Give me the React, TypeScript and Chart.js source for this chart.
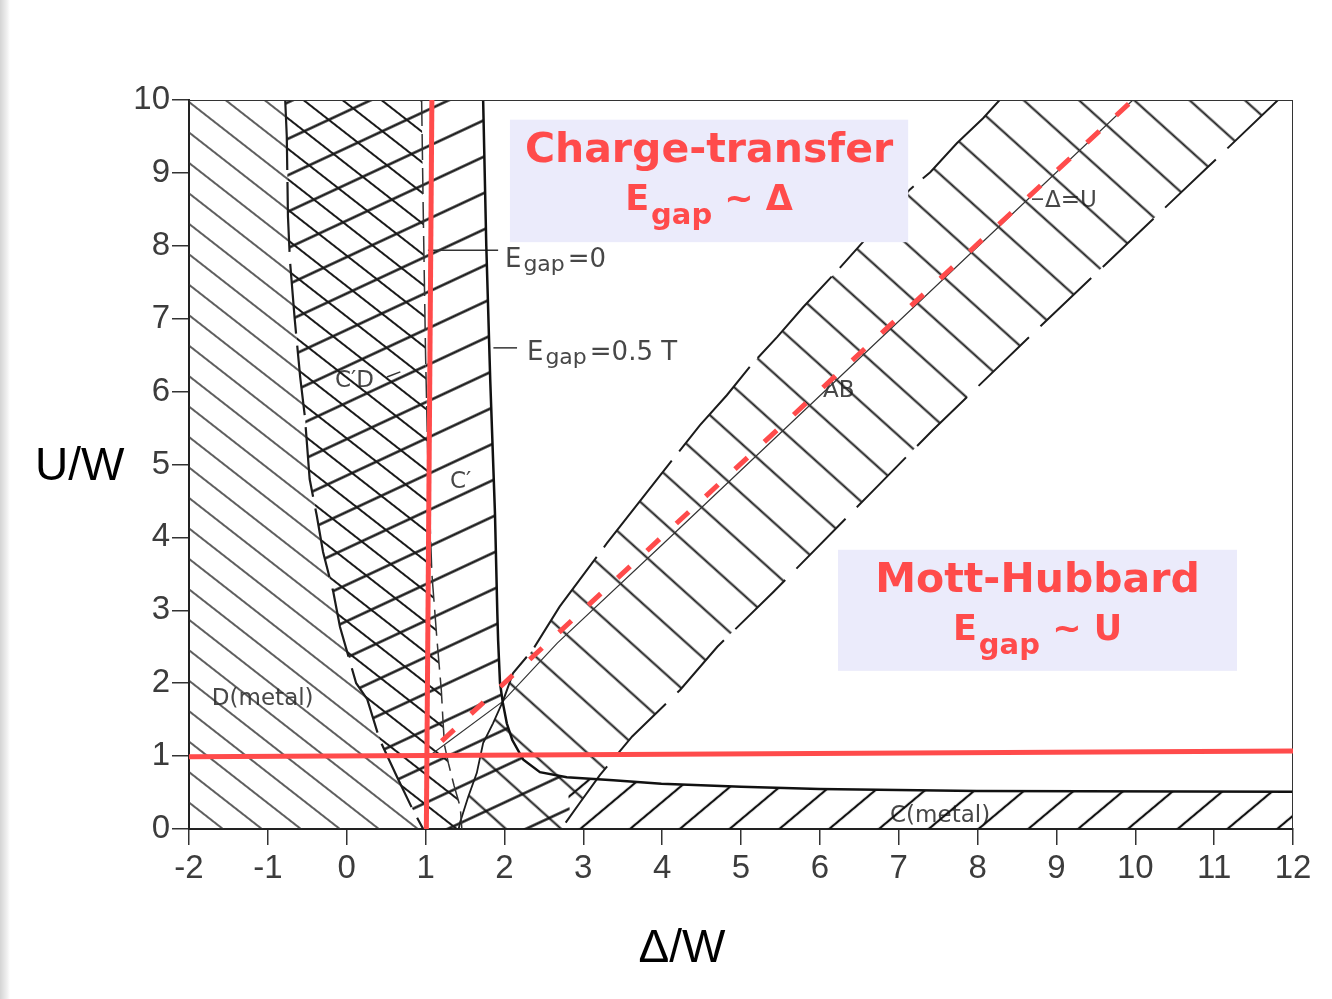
import React, { useEffect, useRef } from 'react';
import { Chart, registerables } from 'chart.js';

Chart.register(...registerables);

type Pt = [number, number];

// Axis ranges: Δ/W horizontally, U/W vertically
const deltaRange: Pt = [-2, 12];
const uRange: Pt = [0, 10];

// Phase boundaries (Δ/W, U/W), each listed from the top of the diagram down
const leftBoundary: Pt[] = [
  [-0.78, 10], [-0.76, 9.5], [-0.745, 8.4], [-0.72, 7.8], [-0.66, 7.0], [-0.59, 6.2],
  [-0.53, 5.65], [-0.47, 4.8], [-0.38, 4.3], [-0.3, 3.8], [-0.17, 3.25], [-0.085, 2.77],
  [0.04, 2.3], [0.12, 2.0], [0.26, 1.78], [0.42, 1.22], [0.64, 0.71], [0.84, 0.26], [0.97, 0],
];
const gapZeroLine: Pt[] = [
  [0.95, 10], [0.97, 8.5], [1.0, 6.5], [1.03, 5.0], [1.08, 3.5], [1.145, 2.59], [1.2, 1.9],
  [1.22, 1.5], [1.24, 1.15], [1.29, 0.9], [1.36, 0.6], [1.44, 0.3], [1.46, 0],
];
const gapHalfLine: Pt[] = [
  [1.73, 10], [1.77, 8], [1.82, 6.16], [1.88, 4.33], [1.91, 2.96], [1.92, 2.59], [1.944, 2.0],
  [1.98, 1.73], [2.03, 1.45], [2.1, 1.22], [2.24, 0.95], [2.45, 0.78], [2.79, 0.71], [3.38, 0.67],
  [3.99, 0.62], [5.0, 0.58], [5.99, 0.55], [7.99, 0.52], [12, 0.51],
];
const abUpperEdge: Pt[] = [
  [8.28, 10], [8.07, 9.75], [7.74, 9.41], [7.4, 9.01], [7.14, 8.77], [6.23, 7.67], [5.79, 7.16],
  [5.46, 6.75], [5.15, 6.39], [4.82, 5.95], [4.48, 5.54], [3.93, 4.79], [3.3, 3.92], [2.7, 3.05],
  [2.36, 2.46], [2.11, 2.14], [1.98, 1.75],
];
const abLowerEdge: Pt[] = [
  [11.81, 10], [10.91, 9.07], [10.19, 8.33], [9.51, 7.63], [8.79, 6.89], [7.43, 5.47], [6.72, 4.69],
  [5.41, 3.25], [4.7, 2.5], [4.23, 1.91], [3.62, 1.27], [3.21, 0.74], [2.95, 0.35], [2.72, 0],
];
const junctionBranch: Pt[] = [
  [1.98, 1.75], [1.855, 1.45], [1.73, 1.18], [1.65, 0.77], [1.54, 0.44], [1.44, 0.1], [1.42, 0],
];
const deltaEqualsU: Pt[] = [[1.08, 1.03], [1.98, 1.75], [2.67, 2.55], [4.0, 3.9], [9.97, 10]];

// Red guide lines
const guideVertical: Pt[] = [[1.01, 0], [1.08, 10]];
const guideHorizontal: Pt[] = [[-2, 0.99], [12, 1.07]];
const guideDiagonal: Pt[] = [[1.0, 1.0], [9.97, 10]];

// Short leader lines next to the labels
const gapZeroLeader: Pt[] = [[1.03, 7.94], [1.92, 7.94]];
const gapHalfLeader: Pt[] = [[1.86, 6.6], [2.16, 6.6]];
const deltaULeader: Pt[] = [[8.69, 8.64], [8.83, 8.64]];
const cdLeader: Pt[] = [[0.51, 6.2], [0.68, 6.27]];

// Region names (anchor = left end of the text baseline)
const regionLabels: { text: string; at: Pt }[] = [
  { text: 'C′D', at: [-0.15, 6.06] },
  { text: 'C′', at: [1.31, 4.68] },
  { text: 'AB', at: [6.04, 5.93] },
  { text: 'D(metal)', at: [-1.71, 1.7] },
  { text: 'C(metal)', at: [6.89, 0.1] },
  { text: 'Δ=U', at: [8.855, 8.53] },
];
const gapLabels: { value: string; at: Pt }[] = [
  { value: '=0', at: [2.007, 7.71] },
  { value: '=0.5 T', at: [2.286, 6.43] },
];

// Shaded captions for the two insulating regimes
const regimeBoxes: { title: string; symbol: string; from: Pt; to: Pt }[] = [
  { title: 'Charge-transfer', symbol: 'Δ', from: [2.07, 9.73], to: [7.12, 8.05] },
  { title: 'Mott-Hubbard', symbol: 'U', from: [6.23, 3.83], to: [11.29, 2.17] },
];

const RED = '#ff4b4b';
const INK = '#1c1c1c';
const PAPER_TEXT = '#474747';
const PAPER_FONT = '"DejaVu Sans", "Liberation Sans", sans-serif';
const CAPTION_FONT = '"DejaVu Sans", "Noto Sans", sans-serif';

const toXY = (a: Pt[]) => a.map(([x, y]) => ({ x, y }));

// Repeating line pattern: parallel strokes at `angle` degrees, `spacing` px apart
function hatch(
  ctx: CanvasRenderingContext2D,
  angle: number,
  spacing: number,
  width: number,
  color: string,
  shift = 0,
): CanvasPattern | string {
  const tile = document.createElement('canvas');
  tile.width = 8;
  tile.height = spacing;
  const t = tile.getContext('2d');
  if (!t) return 'transparent';
  t.strokeStyle = color;
  t.lineWidth = width;
  t.beginPath();
  t.moveTo(0, spacing / 2);
  t.lineTo(8, spacing / 2);
  t.stroke();
  const p = ctx.createPattern(tile, 'repeat');
  if (!p) return 'transparent';
  p.setTransform(new DOMMatrix().translate(0, shift).rotate(angle));
  return p;
}

function lineSet(data: Pt[], color: string, width: number, dash: number[] = [], order = 1, dashOffset = 0) {
  return {
    data: toXY(data),
    showLine: true,
    fill: false,
    borderColor: color,
    borderWidth: width,
    borderDash: dash,
    borderDashOffset: dashOffset,
    borderCapStyle: 'butt' as const,
    pointRadius: 0,
    pointHoverRadius: 0,
    order,
  };
}

function areaSet(poly: Pt[], pattern: CanvasPattern | string) {
  return {
    data: toXY([...poly, poly[0]]),
    showLine: true,
    fill: 'shape' as const,
    backgroundColor: pattern,
    borderColor: 'transparent',
    borderWidth: 0,
    pointRadius: 0,
    pointHoverRadius: 0,
    order: 10,
  };
}

const splitAt = 2.79;
const rev = (a: Pt[]) => [...a].reverse();
// D (metal): between the left axis and the dash-dotted boundary
const dRegion: Pt[] = [[-2, 0], [-2, 10], ...leftBoundary];
// C'D: between the dash-dotted boundary and the E_gap = 0 line
const cdRegion: Pt[] = [...leftBoundary, ...rev(gapZeroLine)];
// C': between E_gap = 0 and E_gap = 0.5 T
const cPrimeRegion: Pt[] = [...gapZeroLine, [2.85, 0], ...rev(gapHalfLine.filter(([x]) => x <= splitAt))];
// C (metal): the strip under the E_gap = 0.5 T tail
const cMetalRegion: Pt[] = [[2.85, 0], [12, 0], ...rev(gapHalfLine.filter(([x]) => x >= splitAt))];
// AB: the band along Δ = U
const abRegion: Pt[] = [...abUpperEdge, ...junctionBranch.slice(1), ...rev(abLowerEdge)];

function drawGapLabel(ctx: CanvasRenderingContext2D, x: number, y: number, value: string) {
  ctx.fillStyle = PAPER_TEXT;
  ctx.textBaseline = 'alphabetic';
  ctx.textAlign = 'left';
  ctx.font = `26px ${PAPER_FONT}`;
  ctx.fillText('E', x, y);
  let cx = x + ctx.measureText('E').width + 2;
  ctx.font = `22px ${PAPER_FONT}`;
  ctx.fillText('gap', cx, y + 4);
  cx += ctx.measureText('gap').width + 3;
  ctx.font = `26px ${PAPER_FONT}`;
  ctx.fillText(value, cx, y);
}

const paperLabels = {
  id: 'paperLabels',
  beforeDatasetsDraw(chart: Chart) {
    const { ctx } = chart;
    const xs = chart.scales.x;
    const ys = chart.scales.y;
    ctx.save();
    ctx.font = `23px ${PAPER_FONT}`;
    ctx.textBaseline = 'alphabetic';
    ctx.textAlign = 'left';
    for (const l of regionLabels) {
      const px = xs.getPixelForValue(l.at[0]);
      const py = ys.getPixelForValue(l.at[1]);
      const w = ctx.measureText(l.text).width;
      ctx.fillStyle = '#ffffff';
      ctx.fillRect(px - 2, py - 19, w + 4, 25);
      ctx.fillStyle = PAPER_TEXT;
      ctx.fillText(l.text, px, py);
    }
    for (const g of gapLabels) {
      drawGapLabel(ctx, xs.getPixelForValue(g.at[0]), ys.getPixelForValue(g.at[1]), g.value);
    }
    ctx.restore();
  },
  afterDatasetsDraw(chart: Chart) {
    const { ctx } = chart;
    const xs = chart.scales.x;
    const ys = chart.scales.y;
    ctx.save();
    for (const b of regimeBoxes) {
      const x0 = xs.getPixelForValue(b.from[0]);
      const y0 = ys.getPixelForValue(b.from[1]);
      const x1 = xs.getPixelForValue(b.to[0]);
      const y1 = ys.getPixelForValue(b.to[1]);
      ctx.fillStyle = 'rgb(235,235,251)';
      ctx.fillRect(x0, y0, x1 - x0, y1 - y0);
      const cx = (x0 + x1) / 2;
      ctx.fillStyle = RED;
      ctx.textBaseline = 'alphabetic';
      ctx.textAlign = 'left';
      ctx.font = `bold 41px ${CAPTION_FONT}`;
      const tw = ctx.measureText(b.title).width;
      ctx.fillText(b.title, cx - tw / 2, y0 + 42);
      // second line: E_gap ~ symbol
      const big = `bold 35px ${CAPTION_FONT}`;
      const small = `bold 29px ${CAPTION_FONT}`;
      ctx.font = big;
      const wE = ctx.measureText('E').width;
      const rest = ' ~ ' + b.symbol;
      const wR = ctx.measureText(rest).width;
      ctx.font = small;
      const wG = ctx.measureText('gap').width;
      const total = wE + 2 + wG + wR;
      let sx = cx - total / 2;
      const base = y0 + 90;
      ctx.font = big;
      ctx.fillText('E', sx, base);
      sx += wE + 2;
      ctx.font = small;
      ctx.fillText('gap', sx, base + 14);
      sx += wG;
      ctx.font = big;
      ctx.fillText(rest, sx, base);
    }
    // axis titles
    ctx.fillStyle = '#000';
    ctx.font = '46px "Liberation Sans", Arial, sans-serif';
    ctx.textAlign = 'left';
    ctx.fillText('U/W', 35, 480);
    ctx.textAlign = 'center';
    ctx.fillText('Δ/W', 682, 962);
    ctx.restore();
  },
};

export default function App() {
  const ref = useRef<HTMLCanvasElement>(null);

  useEffect(() => {
    const canvas = ref.current;
    if (!canvas) return;
    const ctx = canvas.getContext('2d');
    if (!ctx) return;

    const dHatch = hatch(ctx, 38, 24, 1.5, '#2a2a2a');
    const cdBackHatch = hatch(ctx, 38, 24, 2, '#1a1a1a');
    const cPrimeHatch = hatch(ctx, -25, 33, 2.4, '#111');
    const cdFwdHatch = hatch(ctx, -25, 33, 2.4, '#111');
    const abHatch = hatch(ctx, 42, 37, 2, '#1a1a1a');
    const cMetalHatch = hatch(ctx, -40, 32, 2.2, '#111');

    const tickFont = { family: '"Liberation Sans", Arial, sans-serif', size: 33 };

    const chart = new Chart(canvas, {
      type: 'scatter',
      data: {
        datasets: [
          lineSet(guideDiagonal, RED, 5, [17, 23], 0, 18),
          lineSet(guideVertical, RED, 5, [], 0),
          lineSet(guideHorizontal, RED, 5, [], 0),
          lineSet(deltaEqualsU, '#333', 1.2, [], 2),
          lineSet([[-2, 10], [12, 10], [12, 0]], '#333', 2, [], 1),
          lineSet(leftBoundary, INK, 2.2, [70, 12], 1),
          lineSet(gapZeroLine, '#333', 1.5, [26, 8], 1),
          lineSet(gapHalfLine, '#111', 2.5, [], 1),
          lineSet(abUpperEdge, INK, 2, [110, 12], 1),
          lineSet(abLowerEdge, INK, 2, [70, 16], 1),
          lineSet(junctionBranch, INK, 1.8, [], 1),
          lineSet(gapZeroLeader, '#333', 1.5, [], 1),
          lineSet(gapHalfLeader, '#333', 1.5, [], 1),
          lineSet(deltaULeader, '#333', 1.5, [], 1),
          lineSet(cdLeader, '#333', 1.5, [], 1),
          areaSet(dRegion, dHatch),
          areaSet(cdRegion, cdBackHatch),
          areaSet(cdRegion, cdFwdHatch),
          areaSet(cPrimeRegion, cPrimeHatch),
          areaSet(abRegion, abHatch),
          areaSet(cMetalRegion, cMetalHatch),
        ] as any,
      },
      options: {
        responsive: false,
        animation: false,
        events: [],
        layout: { padding: { top: 100, right: 39, left: 0, bottom: 0 } },
        plugins: { legend: { display: false }, tooltip: { enabled: false } },
        scales: {
          x: {
            type: 'linear',
            min: deltaRange[0],
            max: deltaRange[1],
            afterFit: (s: any) => {
              s.height = 170;
            },
            ticks: { stepSize: 1, color: '#3c3c3c', font: tickFont, padding: 4, maxRotation: 0 },
            grid: { drawOnChartArea: false, drawTicks: true, tickLength: 16, color: '#333', lineWidth: 1.5 },
            border: { display: true, color: '#222', width: 2 },
          },
          y: {
            type: 'linear',
            min: uRange[0],
            max: uRange[1],
            afterFit: (s: any) => {
              s.width = 189;
            },
            ticks: { stepSize: 1, color: '#3c3c3c', font: tickFont, padding: 2 },
            grid: { drawOnChartArea: false, drawTicks: true, tickLength: 17, color: '#333', lineWidth: 1.5 },
            border: { display: true, color: '#222', width: 2 },
          },
        },
      },
      plugins: [paperLabels as any],
    });

    return () => chart.destroy();
  }, []);

  return (
    <div style={{ position: 'fixed', left: 0, top: 0, width: 1332, height: 999, background: '#fff' }}>
      <div
        style={{
          position: 'absolute',
          left: 0,
          top: 0,
          width: 10,
          height: 999,
          background: 'linear-gradient(to right, #d4d4d4, #f0f0f0 70%, #ffffff)',
        }}
      />
      <canvas ref={ref} width={1332} height={999} style={{ position: 'absolute', left: 0, top: 0 }} />
    </div>
  );
}
